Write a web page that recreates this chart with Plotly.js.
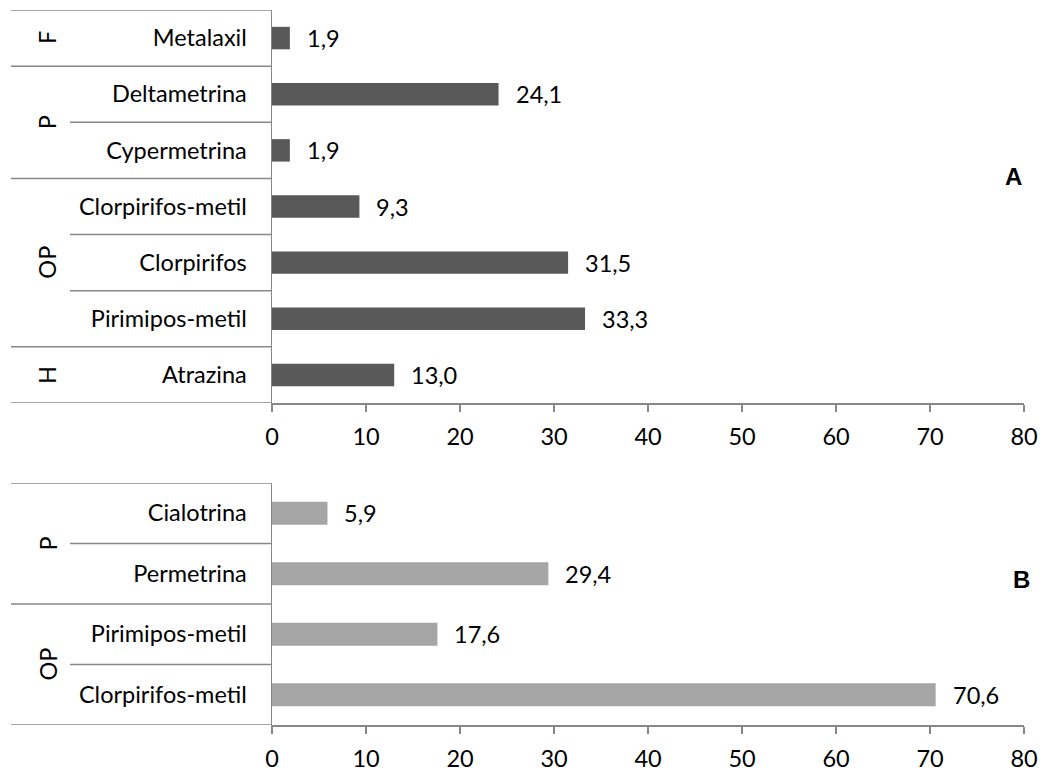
<!DOCTYPE html>
<html>
<head>
<meta charset="utf-8">
<script src="https://cdn.plot.ly/plotly-3.0.1.min.js"></script>
<style>html,body{margin:0;padding:0;background:#fff;}#chart{width:1047px;height:773px;}</style>
</head>
<body>
<div id="chart"></div>
<script>
// Panel A data (top to bottom)
var catsA = ['Metalaxil', 'Deltametrina', 'Cypermetrina', 'Clorpirifos-metil', 'Clorpirifos', 'Pirimipos-metil', 'Atrazina'];
var groupsA = ['F', 'P', 'P', 'OP', 'OP', 'OP', 'H'];
var valsA = [1.9, 24.1, 1.9, 9.3, 31.5, 33.3, 13.0];

// Panel B data (top to bottom)
var catsB = ['Cialotrina', 'Permetrina', 'Pirimipos-metil', 'Clorpirifos-metil'];
var groupsB = ['P', 'P', 'OP', 'OP'];
var valsB = [5.9, 29.4, 17.6, 70.6];

var xTicks = [0, 10, 20, 30, 40, 50, 60, 70, 80];

var FONT = 'Lato, "Open Sans", sans-serif';
var FS = 23.5;
var LINE = '#888888';
var W = 1047, ML = 272, MR = 23;
var plotW = W - ML - MR;
function px(p) { return (p - ML) / plotW; }

var traces = [
  {type: 'bar', orientation: 'h', y: catsA, x: valsA, marker: {color: '#595959'}, width: 0.4,
   xaxis: 'x', yaxis: 'y', hoverinfo: 'skip'},
  {type: 'bar', orientation: 'h', y: catsB, x: valsB, marker: {color: '#a6a6a6'}, width: 0.38,
   xaxis: 'x2', yaxis: 'y2', hoverinfo: 'skip'}
];

var shapes = [], annotations = [];
function addPanel(cats, groups, vals, xref, yref) {
  var n = cats.length;
  var full = px(11), inner = px(70);
  shapes.push({type: 'line', xref: 'paper', yref: yref, x0: full, x1: 0, y0: -0.5, y1: -0.5, line: {color: LINE, width: 1.5}});
  shapes.push({type: 'line', xref: 'paper', yref: yref, x0: full, x1: 0, y0: n - 0.5, y1: n - 0.5, line: {color: LINE, width: 1.5}});
  for (var i = 0; i < n - 1; i++) {
    var same = groups[i] === groups[i + 1];
    shapes.push({type: 'line', xref: 'paper', yref: yref, x0: same ? inner : full, x1: 0,
      y0: i + 0.5, y1: i + 0.5, line: {color: LINE, width: 1.5}});
  }
  var start = 0;
  for (var j = 1; j <= n; j++) {
    if (j === n || groups[j] !== groups[start]) {
      annotations.push({xref: 'paper', yref: yref, x: px(31), y: (start + j - 1) / 2,
        text: groups[start], showarrow: false, textangle: -90,
        font: {family: FONT, size: FS, color: '#000'}});
      start = j;
    }
  }
  for (var k = 0; k < n; k++) {
    annotations.push({xref: xref, yref: yref, x: vals[k], y: cats[k],
      text: vals[k].toFixed(1).replace('.', ','), showarrow: false, xanchor: 'left', xshift: 15,
      font: {family: FONT, size: FS, color: '#000'}});
  }
}
addPanel(catsA, groupsA, valsA, 'x', 'y');
addPanel(catsB, groupsB, valsB, 'x2', 'y2');

annotations.push({xref: 'x', yref: 'y', x: 78.9, y: 2.47, text: '<b>A</b>',
  showarrow: false, font: {family: '"Liberation Sans", Arial, sans-serif', size: 24, color: '#000'}});
annotations.push({xref: 'x2', yref: 'y2', x: 79.7, y: 1.1, text: '<b>B</b>',
  showarrow: false, font: {family: '"Liberation Sans", Arial, sans-serif', size: 24, color: '#000'}});

var xaxisBase = {
  range: [0, 80], tickvals: xTicks, ticktext: xTicks.map(String), showgrid: false, zeroline: false,
  showline: true, linecolor: LINE, linewidth: 1.5, ticks: 'outside', ticklen: 7, tickcolor: LINE, tickwidth: 1.5,
  ticklabelstandoff: 5,
  tickfont: {family: FONT, size: FS, color: '#000'}, fixedrange: true
};
var yaxisBase = {
  type: 'category', showgrid: false, zeroline: false, showline: true, linecolor: LINE, linewidth: 1.5,
  ticks: '', ticklabelstandoff: 19, tickfont: {family: FONT, size: FS, color: '#000'}, fixedrange: true
};

var layout = {
  width: 1047, height: 773,
  margin: {l: ML, r: MR, t: 10, b: 48},
  paper_bgcolor: '#fff', plot_bgcolor: '#fff',
  showlegend: false,
  xaxis: Object.assign({}, xaxisBase, {anchor: 'y'}),
  yaxis: Object.assign({}, yaxisBase, {domain: [(725 - 403) / 715, 1], anchor: 'x', range: [catsA.length - 0.5, -0.5]}),
  xaxis2: Object.assign({}, xaxisBase, {anchor: 'y2'}),
  yaxis2: Object.assign({}, yaxisBase, {domain: [0, (725 - 483) / 715], anchor: 'x2', range: [catsB.length - 0.5, -0.5]}),
  shapes: shapes,
  annotations: annotations
};

Plotly.newPlot('chart', traces, layout, {displayModeBar: false, staticPlot: true});
</script>
</body>
</html>
